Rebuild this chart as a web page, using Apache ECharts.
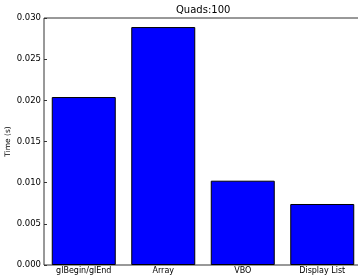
<!DOCTYPE html>
<html lang="en">
<head>
    <meta charset="UTF-8">
    <title>Quads:100</title>
    <script src="https://cdn.jsdelivr.net/npm/echarts@6/dist/echarts.min.js"></script>
    <style>
        html, body {margin: 0; padding: 0; background: #fff;}
    </style>
</head>
<body>
<div id="chart" style="width: 358px;height:276px;"></div>
<script type="text/javascript">
    var categories = ['glBegin/glEnd', 'Array', 'VBO', 'Display List'];
    var times = [0.0204, 0.0289, 0.01024, 0.00741];
    var yTicks = [0, 0.005, 0.010, 0.015, 0.020, 0.025, 0.030];

    var chart = echarts.init(document.getElementById('chart'));
    var font = 'DejaVu Sans';

    var option = {
        animation: false,
        title: {
            text: 'Quads:100',
            left: 176,
            top: 5,
            padding: 0,
            textStyle: {fontFamily: font, fontSize: 10, fontWeight: 'normal', color: '#000'}
        },
        grid: {
            left: 44,
            right: -4,
            top: 18,
            bottom: 11,
            containLabel: false,
            outerBoundsMode: 'none',
            show: true,
            borderColor: '#333',
            borderWidth: 1
        },
        xAxis: {
            type: 'category',
            data: categories,
            axisLine: {show: false},
            axisTick: {show: true, alignWithLabel: true, inside: true, length: 3, lineStyle: {color: '#333'}},
            axisLabel: {fontFamily: font, fontSize: 8, color: '#000', margin: 2, interval: 0},
            splitLine: {show: false}
        },
        yAxis: {
            type: 'value',
            name: 'Time (s)',
            nameLocation: 'middle',
            nameRotate: 90,
            nameGap: 32,
            nameMoveOverlap: false,
            nameTextStyle: {fontFamily: font, fontSize: 7.5, color: '#000'},
            min: yTicks[0],
            max: yTicks[yTicks.length - 1],
            interval: 0.005,
            axisLine: {show: false},
            axisTick: {show: true, inside: true, length: 3, lineStyle: {color: '#333'}},
            axisLabel: {
                fontFamily: font, fontSize: 8.5, color: '#000', margin: 3,
                formatter: function (v) { return v.toFixed(3); }
            },
            splitLine: {show: false}
        },
        series: [
            {
                type: 'bar',
                data: times,
                barWidth: 64,
                itemStyle: {color: '#0000ff', borderColor: '#000', borderWidth: 1}
            }
        ]
    };

    chart.setOption(option);
</script>
</body>
</html>
